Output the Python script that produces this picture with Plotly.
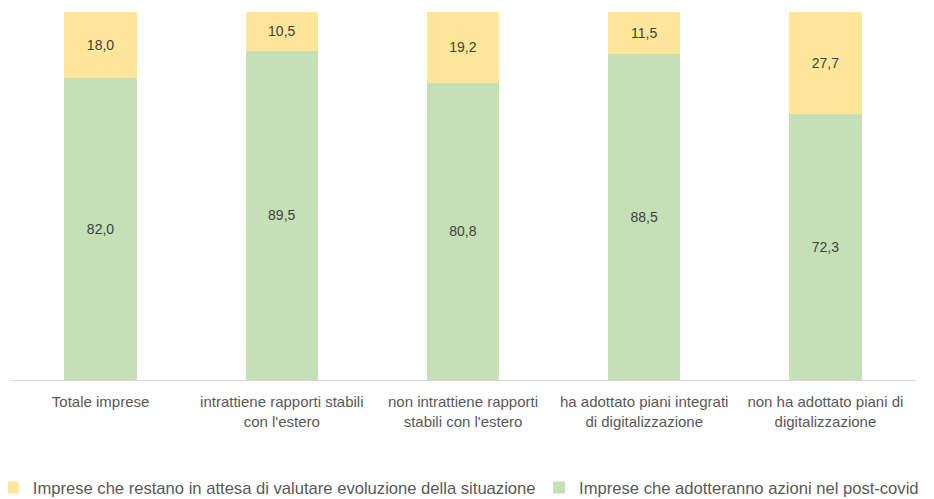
import plotly.graph_objects as go

categories = [
    "Totale imprese",
    "intrattiene rapporti stabili<br>con l'estero",
    "non intrattiene rapporti<br>stabili con l'estero",
    "ha adottato piani integrati<br>di digitalizzazione",
    "non ha adottato piani di<br>digitalizzazione",
]
adotteranno = [82.0, 89.5, 80.8, 88.5, 72.3]
attesa = [18.0, 10.5, 19.2, 11.5, 27.7]

name_attesa = "Imprese che restano in attesa di valutare evoluzione della situazione"
name_adott = "Imprese che adotteranno azioni nel post-covid"

label_font = dict(color="#404040", size=14, family="Liberation Sans")

fig = go.Figure()
fig.add_trace(go.Bar(
    x=categories, y=adotteranno, name=name_adott, legend="legend2",
    marker=dict(color="#C5E0B4", line=dict(width=0)),
    text=adotteranno, texttemplate="%{y:.1f}", textposition="inside",
    insidetextanchor="middle", textfont=label_font,
))
fig.add_trace(go.Bar(
    x=categories, y=attesa, name=name_attesa, legend="legend",
    marker=dict(color="#FFE699", line=dict(width=0)),
    text=attesa, texttemplate="%{y:.1f}", textposition="inside",
    insidetextanchor="middle", textfont=label_font,
))

legend_common = dict(
    orientation="h", yanchor="top", y=-0.245, xanchor="left",
    font=dict(size=16.6, color="#595959"), itemwidth=30,
    bgcolor="rgba(0,0,0,0)",
)

fig.update_layout(
    barmode="stack",
    bargap=0.6,
    separators=",.",
    width=926, height=491,
    margin=dict(l=2, r=18, t=4, b=119, autoexpand=False),
    plot_bgcolor="white", paper_bgcolor="white",
    font=dict(family="Liberation Sans", color="#595959"),
    showlegend=True,
    legend=dict(x=-0.019, **legend_common),
    legend2=dict(x=0.584, **legend_common),
    xaxis=dict(
        showline=True, linecolor="#D9D9D9", linewidth=1,
        ticks="outside", ticklen=8, tickcolor="rgba(0,0,0,0)",
        tickfont=dict(size=15, color="#595959"),
        showgrid=False, automargin=False,
    ),
    yaxis=dict(
        range=[0, 100], visible=False, showgrid=False,
    ),
)

fig.write_html("out.html")
